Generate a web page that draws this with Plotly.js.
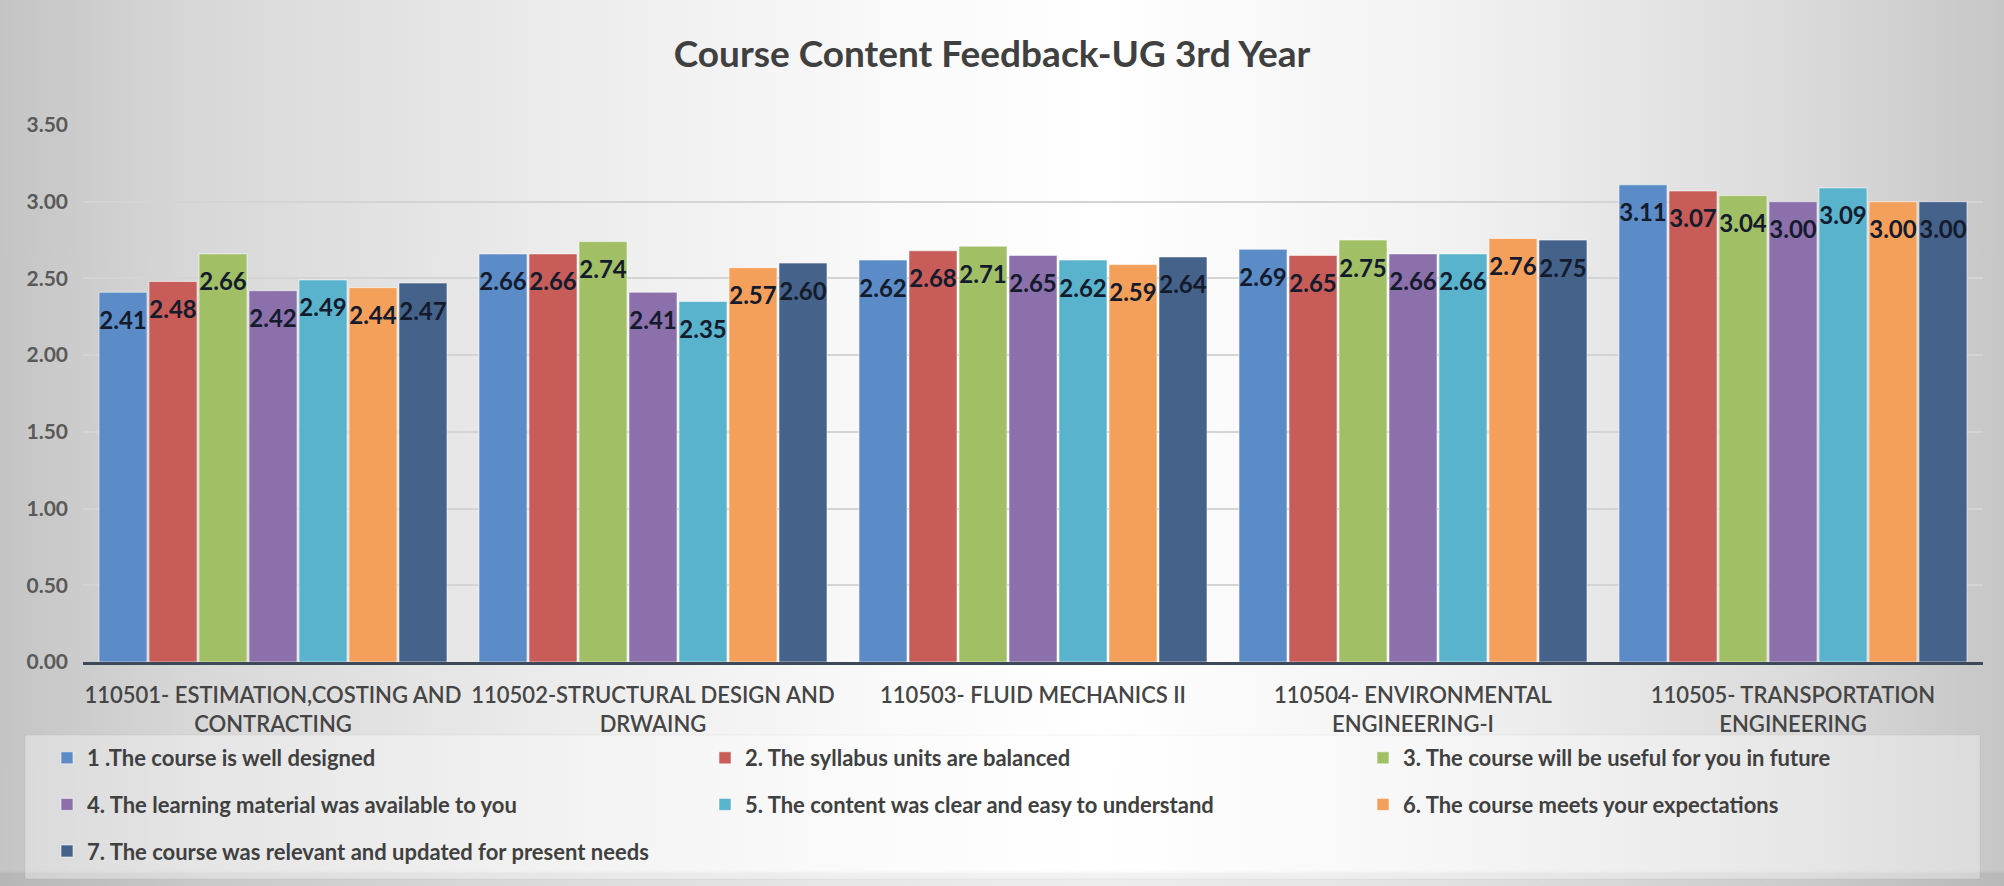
<!DOCTYPE html>
<html>
<head>
<meta charset="utf-8">
<script src="https://cdn.plot.ly/plotly-3.0.1.min.js"></script>
<style>
  html, body { margin: 0; padding: 0; }
  body {
    width: 2004px; height: 886px; overflow: hidden;
    background:
      linear-gradient(180deg, rgba(0,0,0,0) 0%, rgba(0,0,0,0) 98.3%, rgba(0,0,0,0.07) 98.6%, rgba(0,0,0,0.07) 100%),
      linear-gradient(90deg, #c4c4c4 0%, #d8d8d8 10%, #ececec 28%, #fafafa 45%, #ffffff 55%, #f2f2f2 72%, #dadada 90%, #c6c6c6 100%);
  }
  #chart { width: 2004px; height: 886px; }
</style>
</head>
<body>
<div id="chart"></div>
<script>
const categories = [
  "110501- ESTIMATION,COSTING AND<br>CONTRACTING",
  "110502-STRUCTURAL DESIGN AND<br>DRWAING",
  "110503- FLUID MECHANICS II",
  "110504- ENVIRONMENTAL<br>ENGINEERING-I",
  "110505- TRANSPORTATION<br>ENGINEERING"
];
const seriesNames = [
  "1 .The course is well designed",
  "2. The syllabus units are balanced",
  "3. The course will be useful for you in future",
  "4. The learning material was available to you",
  "5. The content was clear and easy to understand",
  "6. The course meets your expectations",
  "7. The course was relevant and updated for present needs"
];
const q1 = [2.41, 2.66, 2.62, 2.69, 3.11];
const q2 = [2.48, 2.66, 2.68, 2.65, 3.07];
const q3 = [2.66, 2.74, 2.71, 2.75, 3.04];
const q4 = [2.42, 2.41, 2.65, 2.66, 3.00];
const q5 = [2.49, 2.35, 2.62, 2.66, 3.09];
const q6 = [2.44, 2.57, 2.59, 2.76, 3.00];
const q7 = [2.47, 2.60, 2.64, 2.75, 3.00];
const seriesValues = [q1, q2, q3, q4, q5, q6, q7];
const yTickVals = [0, 0.5, 1, 1.5, 2, 2.5, 3, 3.5];
const yTickText = ["0.00", "0.50", "1.00", "1.50", "2.00", "2.50", "3.00", "3.50"];

const colors = ["#5b8cc7", "#c75c58", "#a1c066", "#8b70ab", "#59b3cc", "#f5a05a", "#45628b"];
// legend laid out in three columns, like the reference (1,4,7 | 2,5 | 3,6)
const legendIds = ["legend", "legend2", "legend3", "legend", "legend2", "legend3", "legend"];

const barTraces = seriesValues.map((vals, i) => ({
  type: "bar",
  name: seriesNames[i],
  x: categories,
  y: vals,
  marker: { color: colors[i], line: { color: "rgba(255,255,255,0.55)", width: 1 } },
  legend: legendIds[i],
  legendgroup: "g" + i,
  hoverinfo: "skip"
}));

// value labels: grouped scatter text aligned with the bars, sitting just inside each bar top
const labelTraces = seriesValues.map((vals, i) => ({
  type: "scatter",
  mode: "markers+text",
  x: categories,
  y: vals,
  text: vals.map(v => v.toFixed(2)),
  textposition: "bottom center",
  textfont: { family: "Lato, sans-serif", size: 24, color: "#141b2c", weight: "bold" },
  marker: { size: 28, color: "rgba(0,0,0,0)", opacity: 0 },
  cliponaxis: false,
  showlegend: false,
  hoverinfo: "skip"
}));

const legendCommon = {
  orientation: "v",
  xref: "container", yref: "container",
  xanchor: "left",
  y: 1 - 737 / 886, yanchor: "top",
  bgcolor: "rgba(0,0,0,0)",
  borderwidth: 0,
  tracegroupgap: 15,
  font: { family: "Lato, sans-serif", size: 22, color: "#404040", weight: "bold" },
  itemclick: false, itemdoubleclick: false,
  traceorder: "grouped"
};

const layout = {
  width: 2004, height: 886,
  margin: { l: 83, r: 21, t: 125, b: 224, pad: 0, autoexpand: false },
  paper_bgcolor: "rgba(0,0,0,0)",
  plot_bgcolor: "rgba(0,0,0,0)",
  barmode: "group",
  bargap: 0.079,
  bargroupgap: 0.04,
  scattermode: "group",
  scattergap: 0.079,
  title: {
    text: "<b>Course Content Feedback-UG 3rd Year</b>",
    font: { family: "Lato, sans-serif", size: 37, color: "#404040" },
    xref: "container", x: 992 / 2004, xanchor: "center",
    yref: "container", y: 1 - 54 / 886, yanchor: "middle"
  },
  xaxis: {
    type: "category",
    showgrid: false,
    showline: true, linecolor: "#3e4858", linewidth: 3,
    ticks: "", ticklabelstandoff: 12, tickangle: 0,
    tickfont: { family: "Lato, sans-serif", size: 22, color: "#454545", weight: 600 },
    fixedrange: true
  },
  yaxis: {
    range: [0, 3.5],
    tickvals: yTickVals, ticktext: yTickText,
    showgrid: true, gridcolor: "#d4d4d4", gridwidth: 2,
    zeroline: false, showline: false,
    ticks: "", ticklabelstandoff: 14,
    tickfont: { family: "Lato, sans-serif", size: 21, color: "#595959", weight: "bold" },
    fixedrange: true
  },
  legend: Object.assign({}, legendCommon, { x: 47 / 2004 }),
  legend2: Object.assign({}, legendCommon, { x: 705 / 2004 }),
  legend3: Object.assign({}, legendCommon, { x: 1363 / 2004 }),
  shapes: [{
    type: "rect", xref: "paper", yref: "paper", layer: "below",
    x0: (25 - 83) / 1900, x1: (1980 - 83) / 1900,
    y0: (662 - 879) / 537, y1: (662 - 735) / 537,
    fillcolor: "rgba(255,255,255,0.35)",
    line: { color: "rgba(0,0,0,0.04)", width: 1 }
  }],
  showlegend: true
};

Plotly.newPlot("chart", barTraces.concat(labelTraces), layout, { staticPlot: true, displayModeBar: false });
</script>
</body>
</html>
